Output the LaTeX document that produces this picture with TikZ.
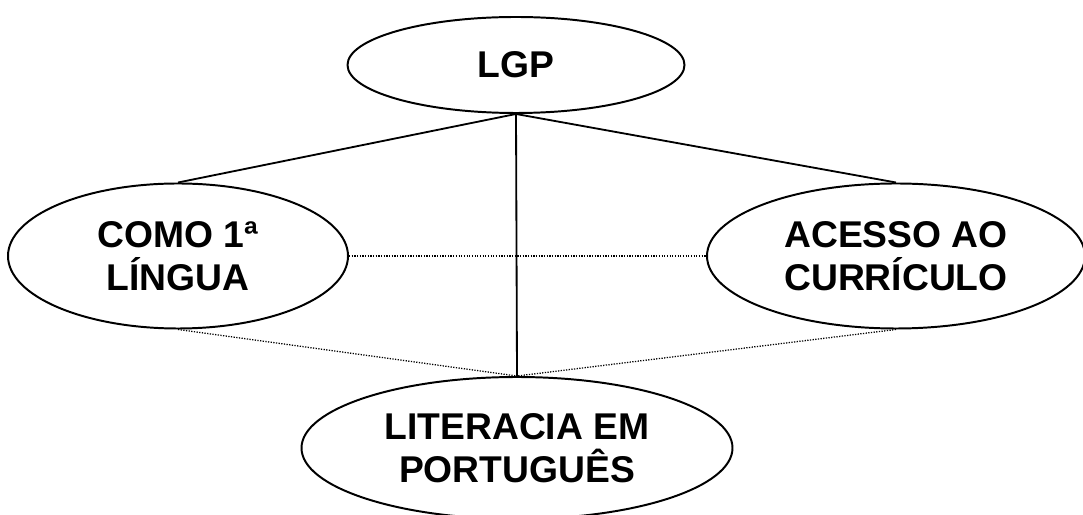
\documentclass[tikz,border=0pt]{standalone}
\usepackage{fontspec}
\setmainfont{Liberation Sans}
\usetikzlibrary{shapes.geometric}
\tikzset{
  bubble/.style={draw, ellipse, line width=1.4pt, inner sep=0pt, align=center,
    font=\fontsize{26.5}{31}\selectfont\bfseries},
  link/.style={line width=1.3pt},
  dotlink/.style={line width=0.9pt, densely dotted}
}
\begin{document}
\begin{tikzpicture}
\useasboundingbox (0,0) rectangle (27.075,12.875);
\node[bubble, minimum width=8.425cm, minimum height=2.4cm] (lgp) at (12.9,11.25) {LGP};
\node[bubble, minimum width=8.5cm, minimum height=3.625cm] (lingua) at (4.45,6.475) {COMO 1ª\\LÍNGUA};
\node[bubble, minimum width=9.45cm, minimum height=3.625cm] (curriculo) at (22.4,6.475) {ACESSO AO\\CURRÍCULO};
\node[bubble, minimum width=10.775cm, minimum height=3.55cm] (literacia) at (12.925,1.675) {LITERACIA EM\\PORTUGUÊS};
% ligacoes
\draw[link] (lgp.south) -- (lingua.north);
\draw[link] (lgp.south) -- (curriculo.north);
\draw[link] (lgp.south) -- (literacia.north);
\draw[dotlink] (lingua.east) -- (curriculo.west);
\draw[dotlink] (lingua.south) -- (literacia.north);
\draw[dotlink] (curriculo.south) -- (literacia.north);
\end{tikzpicture}
\end{document}
